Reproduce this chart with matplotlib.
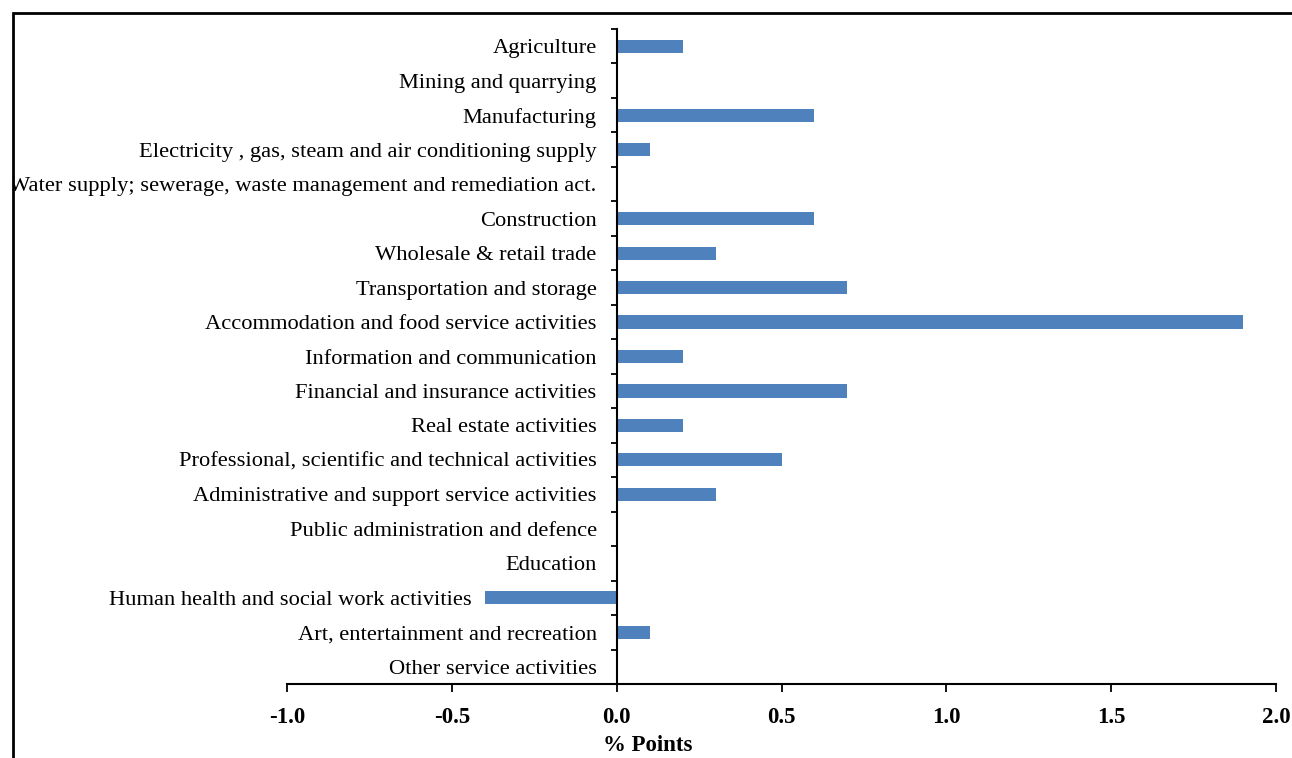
import matplotlib.pyplot as plt
from matplotlib.patches import Rectangle

sectors = ['Agriculture', 'Mining and quarrying', 'Manufacturing',
           'Electricity , gas, steam and air conditioning supply',
           'Water supply; sewerage, waste management and remediation act.',
           'Construction', 'Wholesale & retail trade', 'Transportation and storage',
           'Accommodation and food service activities', 'Information and communication',
           'Financial and insurance activities', 'Real estate activities',
           'Professional, scientific and technical activities',
           'Administrative and support service activities',
           'Public administration and defence', 'Education',
           'Human health and social work activities',
           'Art, entertainment and recreation', 'Other service activities']
values = [0.2, 0.0, 0.6, 0.1, 0.0, 0.6, 0.3, 0.7, 1.9, 0.2,
          0.7, 0.2, 0.5, 0.3, 0.0, 0.0, -0.4, 0.1, 0.0]
xticks = [-1.0, -0.5, 0.0, 0.5, 1.0, 1.5, 2.0]

plt.rcParams['font.family'] = ['Liberation Serif', 'DejaVu Serif']

fig = plt.figure(figsize=(12.92, 7.58), dpi=100)
ax = fig.add_axes([287/1292, 1 - 684/758, (1276 - 287)/1292, (684 - 29)/758])

pos = list(range(len(sectors)))
ax.barh(pos, values, height=0.38, color='#4F81BD')
ax.set_ylim(len(sectors) - 0.5, -0.5)
ax.set_xlim(-1.0, 2.0)

# vertical axis sits at zero, like the Excel original
ax.spines['left'].set_position(('data', 0))
ax.spines['left'].set_linewidth(1.5)
ax.spines['bottom'].set_linewidth(1.5)
ax.spines['top'].set_visible(False)
ax.spines['right'].set_visible(False)

ax.set_yticks([i - 0.5 for i in range(len(sectors) + 1)])
ax.set_yticklabels([])
ax.tick_params(axis='y', direction='out', length=4.5, width=1.3)

ax.set_xticks(xticks)
ax.set_xticklabels([f'{t:.1f}' for t in xticks], fontsize=16.5, fontweight='bold')
ax.tick_params(axis='x', direction='out', length=6, width=1.3, pad=10.5)
ax.set_xlabel('% Points', fontsize=16.5, fontweight='bold')
ax.xaxis.label.set_va('top')
ax.xaxis.set_label_coords((648 - 287) / 989, -(735 - 684) / 655)

for p, name, v in zip(pos, sectors, values):
    off = -13 if v < 0 else -20
    ax.annotate(name, xy=(min(v, 0), p), xytext=(off * 0.72, 0),
                textcoords='offset points', ha='right', va='center_baseline',
                fontsize=16.2)

# figure frame
fig.patches.append(Rectangle((0, 0), 13/1292, 1, transform=fig.transFigure,
                             facecolor='white', edgecolor='none', zorder=10))
fig.patches.append(Rectangle((13/1292, -0.1), 1.2, 1 - 13/758 + 0.1,
                             transform=fig.transFigure, facecolor='none',
                             edgecolor='black', linewidth=2, zorder=11))

fig.savefig('out.png', dpi=100)
